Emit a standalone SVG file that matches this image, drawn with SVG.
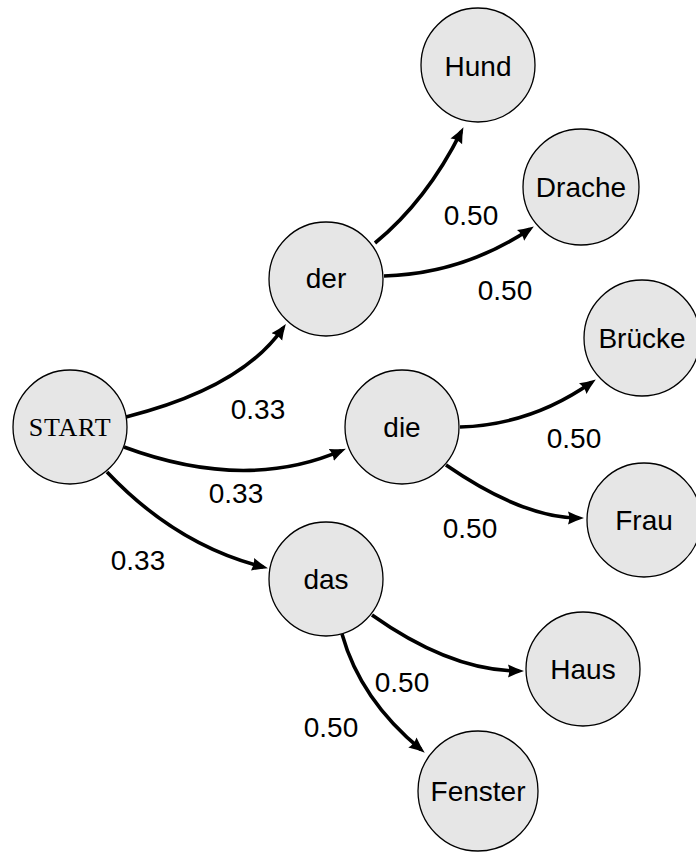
<svg xmlns="http://www.w3.org/2000/svg" width="696" height="853" viewBox="0 0 696 853">
<style>
.node circle{fill:#e6e6e6;stroke:#000;stroke-width:1.3}
.node text{font-family:"Liberation Sans",Arial,sans-serif;font-size:28px;text-anchor:middle;fill:#000}
.node text.sc{font-family:"Liberation Serif","Times New Roman",serif;font-size:26px;letter-spacing:0.8px}
.edge{fill:none;stroke:#000;stroke-width:3.6;stroke-linecap:butt}
.lbl{font-family:"Liberation Sans",Arial,sans-serif;font-size:28px;text-anchor:middle;fill:#000}
</style>
<defs>
<marker id="arr" markerUnits="userSpaceOnUse" markerWidth="17" markerHeight="14" refX="11" refY="7" orient="auto" viewBox="0 0 17 14">
<path d="M0,0.5 Q7,4 16,7 Q7,10 0,13.5 Q2.5,7 0,0.5 z" fill="#000"/>
</marker>
</defs>
<g id="connectors">
<path class="edge" marker-end="url(#arr)" d="M126,417 Q241.6,388 283,328"/>
<path class="edge" marker-end="url(#arr)" d="M124,447 Q245,492 341.3,450.6"/>
<path class="edge" marker-end="url(#arr)" d="M107,472 Q176,545 263.1,567"/>
<path class="edge" marker-end="url(#arr)" d="M375,243 Q426.7,200.6 461.2,131.6"/>
<path class="edge" marker-end="url(#arr)" d="M384,276 Q463,273.6 529.7,229.2"/>
<path class="edge" marker-end="url(#arr)" d="M460,427 Q531,425 591.7,382.3"/>
<path class="edge" marker-end="url(#arr)" d="M446,465 Q522.8,518 579,518"/>
<path class="edge" marker-end="url(#arr)" d="M372,615 Q451,671 519,671"/>
<path class="edge" marker-end="url(#arr)" d="M342,634 Q360.4,699.8 420.9,749.5"/>
<text class="lbl" x="258" y="419">0.33</text>
<text class="lbl" x="236" y="503">0.33</text>
<text class="lbl" x="138" y="570">0.33</text>
<text class="lbl" x="471" y="225">0.50</text>
<text class="lbl" x="505" y="300">0.50</text>
<text class="lbl" x="574" y="448">0.50</text>
<text class="lbl" x="470" y="538">0.50</text>
<text class="lbl" x="402" y="692">0.50</text>
<text class="lbl" x="331" y="737">0.50</text>
</g>
<g id="start" class="node"><circle cx="70" cy="427" r="57"/><text class="sc" x="70" y="436">START</text></g>
<g id="der" class="node"><circle cx="326" cy="279" r="57"/><text x="326" y="288">der</text></g>
<g id="die" class="node"><circle cx="402" cy="427" r="57"/><text x="402" y="437">die</text></g>
<g id="das" class="node"><circle cx="326" cy="579" r="57"/><text x="326" y="589">das</text></g>
<g id="hund" class="node"><circle cx="478" cy="65" r="57"/><text x="478" y="76">Hund</text></g>
<g id="drache" class="node"><circle cx="581" cy="187" r="58"/><text x="581" y="197">Drache</text></g>
<g id="bruecke" class="node"><circle cx="642" cy="338" r="58"/><text x="642" y="348">Brücke</text></g>
<g id="frau" class="node"><circle cx="644" cy="520" r="57"/><text x="644" y="530">Frau</text></g>
<g id="haus" class="node"><circle cx="583" cy="669" r="57"/><text x="583" y="679">Haus</text></g>
<g id="fenster" class="node"><circle cx="478" cy="791" r="60"/><text x="478" y="801">Fenster</text></g>
</svg>
